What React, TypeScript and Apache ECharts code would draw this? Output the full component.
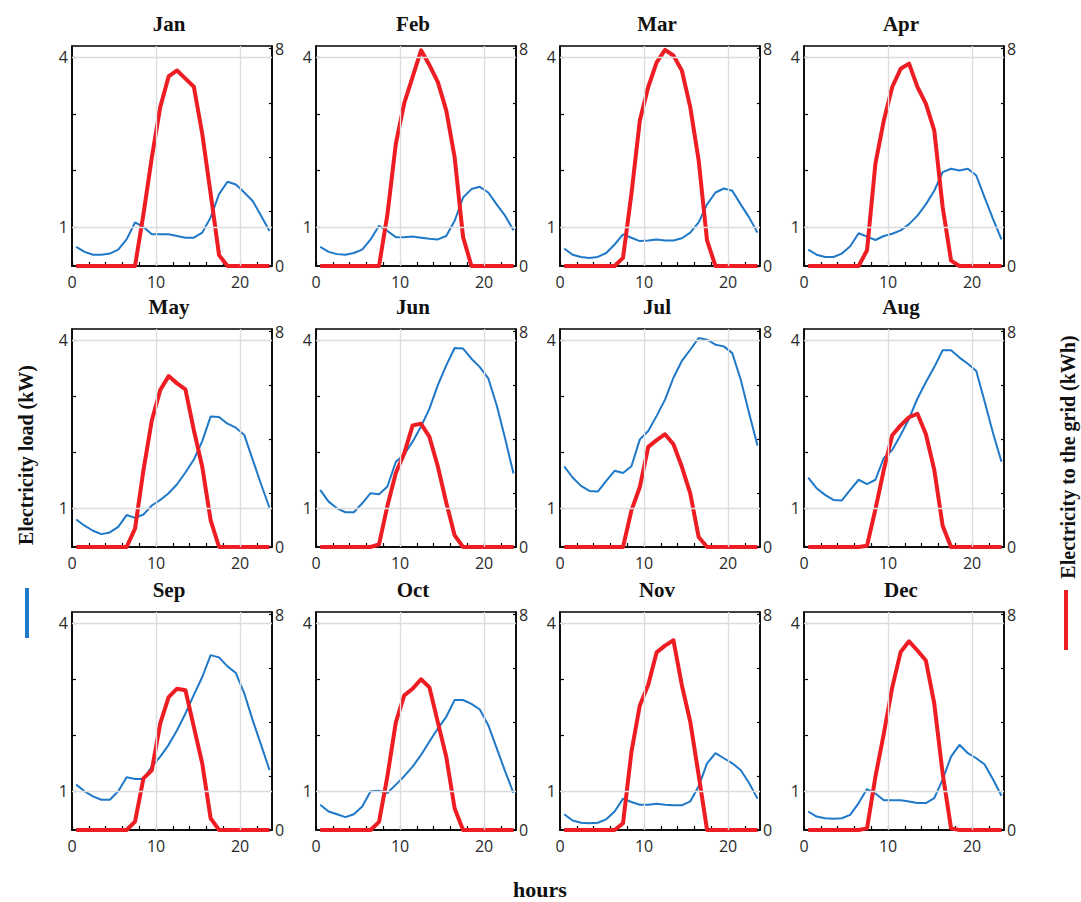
import React, { useEffect, useRef } from "react";
import * as echarts from "echarts";

const months = ["Jan", "Feb", "Mar", "Apr", "May", "Jun", "Jul", "Aug", "Sep", "Oct", "Nov", "Dec"];

const hours = [0.5, 1.5, 2.5, 3.5, 4.5, 5.5, 6.5, 7.5, 8.5, 9.5, 10.5, 11.5, 12.5, 13.5, 14.5, 15.5, 16.5, 17.5, 18.5, 19.5, 20.5, 21.5, 22.5, 23.5];

// Electricity load (kW), left axis
const loadJan = [0.65, 0.56, 0.51, 0.51, 0.53, 0.6, 0.78, 1.08, 1.0, 0.87, 0.87, 0.87, 0.84, 0.81, 0.81, 0.9, 1.17, 1.58, 1.8, 1.75, 1.61, 1.46, 1.2, 0.93];
const loadFeb = [0.65, 0.56, 0.52, 0.51, 0.54, 0.6, 0.78, 1.02, 0.93, 0.82, 0.82, 0.83, 0.81, 0.79, 0.78, 0.84, 1.11, 1.52, 1.67, 1.71, 1.61, 1.4, 1.2, 0.94];
const loadMar = [0.62, 0.51, 0.47, 0.45, 0.47, 0.54, 0.69, 0.87, 0.81, 0.75, 0.76, 0.78, 0.76, 0.76, 0.8, 0.9, 1.08, 1.4, 1.61, 1.68, 1.64, 1.4, 1.17, 0.9];
const loadApr = [0.6, 0.51, 0.47, 0.47, 0.53, 0.66, 0.89, 0.83, 0.77, 0.84, 0.88, 0.94, 1.05, 1.2, 1.4, 1.64, 1.97, 2.03, 2.0, 2.03, 1.91, 1.52, 1.14, 0.78];
const loadMay = [0.8, 0.69, 0.6, 0.54, 0.57, 0.67, 0.88, 0.83, 0.89, 1.05, 1.15, 1.27, 1.43, 1.64, 1.87, 2.2, 2.64, 2.63, 2.51, 2.44, 2.31, 1.87, 1.43, 1.01];
const loadJun = [1.33, 1.12, 1.0, 0.93, 0.93, 1.09, 1.27, 1.25, 1.39, 1.83, 1.96, 2.19, 2.46, 2.78, 3.2, 3.55, 3.86, 3.85, 3.67, 3.52, 3.32, 2.84, 2.25, 1.62];
const loadJul = [1.75, 1.55, 1.4, 1.31, 1.3, 1.49, 1.67, 1.63, 1.75, 2.23, 2.38, 2.65, 2.94, 3.33, 3.63, 3.83, 4.04, 4.01, 3.92, 3.89, 3.77, 3.3, 2.7, 2.12];
const loadAug = [1.55, 1.36, 1.24, 1.15, 1.14, 1.33, 1.51, 1.43, 1.51, 1.9, 2.04, 2.31, 2.6, 2.96, 3.25, 3.52, 3.82, 3.82, 3.69, 3.58, 3.45, 2.9, 2.34, 1.83];
const loadSep = [1.12, 1.0, 0.91, 0.85, 0.85, 1.0, 1.25, 1.22, 1.22, 1.44, 1.62, 1.83, 2.09, 2.39, 2.72, 3.04, 3.43, 3.39, 3.23, 3.11, 2.75, 2.27, 1.83, 1.38];
const loadOct = [0.76, 0.64, 0.59, 0.54, 0.59, 0.73, 1.0, 1.01, 0.97, 1.12, 1.27, 1.44, 1.65, 1.89, 2.12, 2.33, 2.63, 2.63, 2.56, 2.46, 2.18, 1.77, 1.36, 0.97];
const loadNov = [0.59, 0.48, 0.44, 0.43, 0.44, 0.5, 0.64, 0.87, 0.81, 0.76, 0.76, 0.78, 0.76, 0.75, 0.75, 0.82, 1.09, 1.5, 1.68, 1.59, 1.5, 1.38, 1.15, 0.87];
const loadDec = [0.64, 0.55, 0.52, 0.51, 0.52, 0.58, 0.79, 1.04, 0.96, 0.84, 0.84, 0.84, 0.82, 0.79, 0.79, 0.88, 1.21, 1.62, 1.83, 1.68, 1.59, 1.48, 1.21, 0.92];

// Electricity to the grid (kWh), right axis
const gridJan = [0, 0, 0, 0, 0, 0, 0, 0, 1.9, 4.0, 5.85, 6.98, 7.2, 6.9, 6.6, 4.87, 2.66, 0.4, 0, 0, 0, 0, 0, 0];
const gridFeb = [0, 0, 0, 0, 0, 0, 0, 0, 1.9, 4.5, 6.0, 6.96, 7.94, 7.4, 6.77, 5.73, 4.0, 1.07, 0, 0, 0, 0, 0, 0];
const gridMar = [0, 0, 0, 0, 0, 0, 0, 0.3, 2.66, 5.36, 6.59, 7.5, 7.96, 7.75, 7.2, 5.85, 3.89, 0.94, 0, 0, 0, 0, 0, 0];
const gridApr = [0, 0, 0, 0, 0, 0, 0, 0.58, 3.77, 5.36, 6.59, 7.26, 7.45, 6.59, 5.98, 4.99, 2.17, 0.2, 0, 0, 0, 0, 0, 0];
const gridMay = [0, 0, 0, 0, 0, 0, 0, 0.68, 2.85, 4.71, 5.83, 6.35, 6.08, 5.86, 4.34, 2.98, 0.99, 0, 0, 0, 0, 0, 0, 0];
const gridJun = [0, 0, 0, 0, 0, 0, 0, 0.1, 1.53, 2.75, 3.48, 4.52, 4.58, 4.09, 2.99, 1.65, 0.43, 0, 0, 0, 0, 0, 0, 0];
const gridJul = [0, 0, 0, 0, 0, 0, 0, 0, 1.36, 2.23, 3.72, 3.97, 4.19, 3.82, 2.98, 1.99, 0.37, 0, 0, 0, 0, 0, 0, 0];
const gridAug = [0, 0, 0, 0, 0, 0, 0, 0.05, 1.4, 2.87, 4.15, 4.52, 4.82, 4.95, 4.2, 2.87, 0.79, 0, 0, 0, 0, 0, 0, 0];
const gridSep = [0, 0, 0, 0, 0, 0, 0, 0.31, 1.92, 2.22, 3.96, 4.94, 5.25, 5.19, 3.83, 2.47, 0.43, 0, 0, 0, 0, 0, 0, 0];
const gridOct = [0, 0, 0, 0, 0, 0, 0, 0.3, 2.0, 4.0, 5.0, 5.25, 5.6, 5.3, 4.0, 2.72, 0.8, 0, 0, 0, 0, 0, 0, 0];
const gridNov = [0, 0, 0, 0, 0, 0, 0, 0.25, 2.9, 4.63, 5.4, 6.6, 6.85, 7.05, 5.38, 4.02, 2.04, 0, 0, 0, 0, 0, 0, 0];
const gridDec = [0, 0, 0, 0, 0, 0, 0, 0.06, 1.98, 3.58, 5.3, 6.61, 7.01, 6.67, 6.3, 4.7, 2.1, 0.06, 0, 0, 0, 0, 0, 0];

const loads = [loadJan, loadFeb, loadMar, loadApr, loadMay, loadJun, loadJul, loadAug, loadSep, loadOct, loadNov, loadDec];
const grids = [gridJan, gridFeb, gridMar, gridApr, gridMay, gridJun, gridJul, gridAug, gridSep, gridOct, gridNov, gridDec];

const xLabelValues = [0, 10, 20];
const xTickValues = [0, 2, 4, 6, 8, 10, 12, 14, 16, 18, 20, 22];
const leftLabelValues = [1, 4];
const leftTickValues = [1, 2, 3, 4];
const rightLabelValues = [0, 8];
const rightTickValues = [0, 2, 4, 6, 8];

const BLUE = "#1f78c8";
const RED = "#ee1d23";
const TICK_FONT = '"Open Sans", "Noto Sans", sans-serif';
const SERIF = '"Liberation Serif", "DejaVu Serif", serif';

export default function App() {
  const ref = useRef<HTMLDivElement>(null);

  useEffect(() => {
    document.body.style.margin = "0";
    if (!ref.current) return;
    const chart = echarts.init(ref.current, undefined, { renderer: "svg" });

    const colLefts = [72, 316, 560, 804];
    const rowTops = [46, 329, 612];
    const rowHeights = [220, 218, 218];
    const W = 200;

    const gridOpts: any[] = [];
    const xAxes: any[] = [];
    const yAxes: any[] = [];
    const series: any[] = [];
    const graphics: any[] = [];

    const labelStyle = { fontSize: 16, color: "#2a2a2a", fontFamily: TICK_FONT };
    const axisLine = { show: true, lineStyle: { color: "#000", width: 1.5 } };

    months.forEach((m, i) => {
      const col = i % 4;
      const row = Math.floor(i / 4);
      const left = colLefts[col];
      const top = rowTops[row];
      const h = rowHeights[row];
      gridOpts.push({ left, top, width: W, height: h, show: true, borderColor: "#000", borderWidth: 1.5, backgroundColor: "transparent", containLabel: false });

      xAxes.push({
        type: "value", gridIndex: i, min: 0, max: 23.8,
        axisLine,
        axisTick: { show: true, inside: true, length: 4, customValues: xTickValues, lineStyle: { color: "#000", width: 1.2 } },
        axisLabel: { ...labelStyle, margin: 8, customValues: xLabelValues },
        splitLine: { show: false },
      });
      yAxes.push({
        type: "value", gridIndex: i, position: "left", min: 0.31, max: 4.2,
        axisLine,
        axisTick: { show: true, inside: true, length: 4, customValues: leftTickValues, lineStyle: { color: "#000", width: 1.2 } },
        axisLabel: { ...labelStyle, margin: 4, customValues: leftLabelValues },
        splitLine: { show: false },
      });
      yAxes.push({
        type: "value", gridIndex: i, position: "right", min: 0, max: 8.1,
        axisLine,
        axisTick: { show: true, inside: true, length: 3, customValues: rightTickValues, lineStyle: { color: "#000", width: 1.2 } },
        axisLabel: { ...labelStyle, margin: 3, customValues: rightLabelValues },
        splitLine: { show: false },
      });

      series.push({
        type: "line", xAxisIndex: i, yAxisIndex: 2 * i, data: [], z: 1,
        markLine: {
          silent: true, symbol: "none", animation: false,
          label: { show: false },
          lineStyle: { color: "#dcdcdc", width: 1.3, type: "solid" },
          data: [{ xAxis: 10 }, { xAxis: 20 }, { yAxis: 1 }, { yAxis: 4 }],
        },
      });
      series.push({
        type: "line", name: "load", xAxisIndex: i, yAxisIndex: 2 * i, z: 2,
        data: hours.map((hr, j) => [hr, loads[i][j]]),
        showSymbol: false, symbol: "none",
        lineStyle: { color: BLUE, width: 2 },
      });
      series.push({
        type: "line", name: "grid", xAxisIndex: i, yAxisIndex: 2 * i + 1, z: 3,
        data: hours.map((hr, j) => [hr, grids[i][j]]),
        showSymbol: false, symbol: "none",
        lineStyle: { color: RED, width: 4, join: "round" },
      });

      graphics.push({
        type: "text", x: left + W / 2 - 3, y: top - 22,
        style: { text: m, font: `bold 21px ${SERIF}`, fill: "#111", textAlign: "center", textVerticalAlign: "middle" },
      });
    });

    graphics.push(
      { type: "text", x: 26, y: 455, rotation: Math.PI / 2, style: { text: "Electricity load (kW)", font: `bold 20px ${SERIF}`, fill: "#111", textAlign: "center", textVerticalAlign: "middle" } },
      { type: "line", shape: { x1: 27, y1: 588, x2: 27, y2: 638 }, style: { stroke: BLUE, lineWidth: 4 } },
      { type: "text", x: 1068, y: 457, rotation: Math.PI / 2, style: { text: "Electricity to the grid (kWh)", font: `bold 20px ${SERIF}`, fill: "#111", textAlign: "center", textVerticalAlign: "middle" } },
      { type: "line", shape: { x1: 1066, y1: 590, x2: 1066, y2: 650 }, style: { stroke: RED, lineWidth: 4 } },
      { type: "text", x: 540, y: 889, style: { text: "hours", font: `bold 22px ${SERIF}`, fill: "#111", textAlign: "center", textVerticalAlign: "middle" } },
    );

    chart.setOption({
      animation: false,
      backgroundColor: "#fff",
      grid: gridOpts,
      xAxis: xAxes,
      yAxis: yAxes,
      series,
      graphic: graphics,
    });

    return () => chart.dispose();
  }, []);

  return <div ref={ref} style={{ width: 1081, height: 902 }} />;
}
